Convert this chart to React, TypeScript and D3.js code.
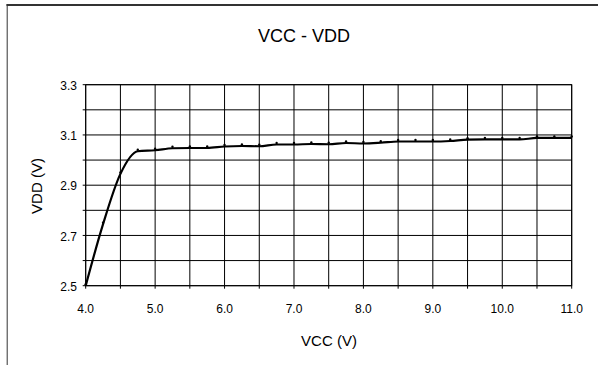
import React from "react";
import * as d3 from "d3";

const vcc = [4.0, 4.25, 4.5, 4.75, 5.0, 5.25, 5.5, 5.75, 6.0, 6.25, 6.5, 6.75, 7.0, 7.25, 7.5, 7.75, 8.0, 8.25, 8.5, 8.75, 9.0, 9.25, 9.5, 9.75, 10.0, 10.25, 10.5, 10.75, 11.0];
const vdd = [2.5, 2.745, 2.945, 3.035, 3.039, 3.047, 3.048, 3.048, 3.054, 3.056, 3.055, 3.062, 3.062, 3.064, 3.063, 3.068, 3.066, 3.069, 3.074, 3.074, 3.074, 3.076, 3.081, 3.082, 3.082, 3.082, 3.088, 3.088, 3.088];

const xGrid = d3.range(4, 11.0001, 0.5);
const yGrid = d3.range(2.5, 3.3001, 0.1);
const xTickLabels = ["4.0", "5.0", "6.0", "7.0", "8.0", "9.0", "10.0", "11.0"];
const yTickLabels = ["2.5", "2.7", "2.9", "3.1", "3.3"];

const title = "VCC - VDD";
const xTitle = "VCC (V)";
const yTitle = "VDD (V)";

const W = 598;
const H = 365;
const font = "'Liberation Sans', Arial, sans-serif";

export default function App() {
  const x = d3.scaleLinear().domain([4, 11]).range([85.7, 571.7]);
  const y = d3.scaleLinear().domain([2.5, 3.3]).range([285.7, 84.7]);
  const pts = vcc.map((v, i) => [v, vdd[i]] as [number, number]);
  const line = d3
    .line<[number, number]>()
    .x((d) => x(d[0]))
    .y((d) => y(d[1]))
    .curve(d3.curveMonotoneX);

  return (
    <svg
      width={W}
      height={H}
      style={{ position: "absolute", left: 0, top: 0, background: "#fff" }}
    >
      <rect x={0} y={0} width={W} height={H} fill="#fff" />
      {/* outer frame */}
      <line x1={6.5} x2={W} y1={5} y2={5} stroke="#333" strokeWidth={2} />
      <line x1={7.2} x2={7.2} y1={4} y2={H} stroke="#333" strokeWidth={1} />

      <text x={304} y={42} textAnchor="middle" fontFamily={font} fontSize={18} fill="#000">
        {title}
      </text>

      {/* grid */}
      {xGrid.map((v, i) => (
        <line key={"gx" + i} x1={x(v)} x2={x(v)} y1={y(2.5)} y2={y(3.3)} stroke="#000" strokeWidth={1} />
      ))}
      {yGrid.map((v, i) => (
        <line key={"gy" + i} x1={x(4)} x2={x(11)} y1={y(v)} y2={y(v)} stroke="#000" strokeWidth={1} />
      ))}
      {/* ticks */}
      {xGrid.map((v, i) => (
        <line key={"tx" + i} x1={x(v)} x2={x(v)} y1={y(2.5)} y2={y(2.5) + 3} stroke="#000" strokeWidth={1} />
      ))}
      {yGrid.map((v, i) => (
        <line key={"ty" + i} x1={x(4) - 3} x2={x(4)} y1={y(v)} y2={y(v)} stroke="#000" strokeWidth={1} />
      ))}
      <rect x={x(4)} y={y(3.3)} width={x(11) - x(4)} height={y(2.5) - y(3.3)} fill="none" stroke="#000" strokeWidth={1} />

      {/* tick labels */}
      {xTickLabels.map((t) => (
        <text key={"xl" + t} x={x(+t)} y={313} textAnchor="middle" fontFamily={font} fontSize={12} fill="#000">
          {t}
        </text>
      ))}
      {yTickLabels.map((t) => (
        <text key={"yl" + t} x={77} y={y(+t) + 2} textAnchor="end" dominantBaseline="middle" fontFamily={font} fontSize={12} fill="#000">
          {t}
        </text>
      ))}

      {/* axis titles */}
      <text x={329} y={346} textAnchor="middle" fontFamily={font} fontSize={15} fill="#000">
        {xTitle}
      </text>
      <text
        transform={`translate(42,186) rotate(-90)`}
        textAnchor="middle"
        fontFamily={font}
        fontSize={15}
        fill="#000"
      >
        {yTitle}
      </text>

      {/* series */}
      <path d={line(pts) || ""} fill="none" stroke="#000" strokeWidth={2.2} />
      {pts.map((p, i) => (
        <circle key={"m" + i} cx={x(p[0])} cy={y(p[1]) - 1.5} r={1.2} fill="#000" />
      ))}
    </svg>
  );
}
